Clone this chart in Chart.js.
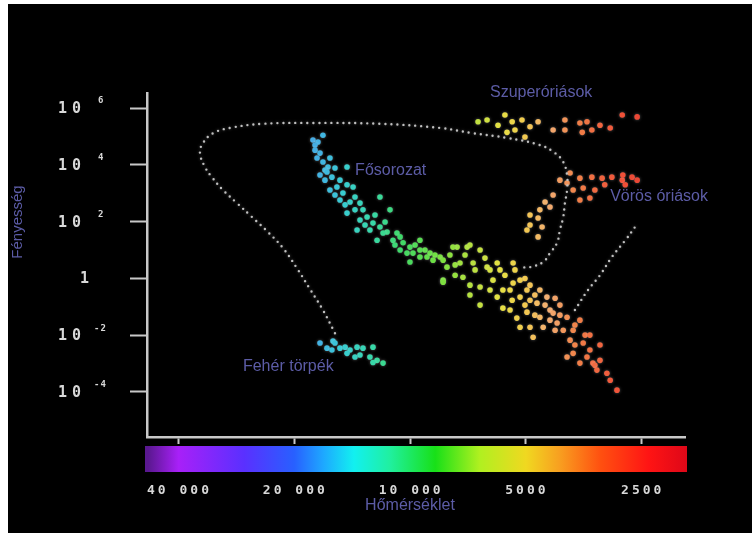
<!DOCTYPE html>
<html lang="hu">
<head>
<meta charset="UTF-8">
<title>Hertzsprung–Russell-diagram</title>
<script src="https://cdn.jsdelivr.net/npm/chart.js"></script>
<style>
  body { margin: 0; background: #fff; }
  canvas { display: block; }
</style>
</head>
<body>
<canvas id="hrd" width="752" height="533"></canvas>
<script>
// [hőmérséklet (K), fényesség (Nap = 1)]
const foSorozat = [
  [16850, 1.1e5], [17890, 7.5e4], [17360, 6.4e4], [17670, 5.0e4], [17670, 3.3e4], [17150, 2.6e4], [17460, 1.75e4],
  [16160, 1.75e4], [16850, 1.26e4], [16350, 8.4e3], [16650, 6.6e3], [16450, 5.6e3], [15680, 7.8e3], [14590, 8.4e3],
  [17150, 4.4e3], [15970, 3.7e3], [16650, 2.9e3], [15220, 2.9e3], [15500, 1.66e3], [14590, 2.0e3], [14070, 1.66e3],
  [16160, 1.3e3], [14950, 1.02e3], [15680, 870], [13910, 740], [15220, 580], [14330, 490], [13500, 450], [14760, 390],
  [13260, 260], [13910, 260], [14590, 200], [11980, 740], [11280, 260], [12340, 171], [13500, 114], [12940, 146],
  [11620, 97], [12490, 89], [13100, 76], [11980, 65], [12720, 51], [13740, 51], [11480, 43], [11760, 40], [10820, 40],
  [10620, 29], [11080, 22], [12190, 22], [10430, 18], [10950, 15], [9710, 15], [10010, 12.7], [10620, 10], [9150, 10],
  [9430, 10], [9430, 22], [10190, 7.8], [9830, 7.8], [8880, 7.8], [9430, 5.7], [9040, 5.7], [8620, 6.7], [8720, 4.4],
  [8360, 5.7], [8210, 4.4], [10010, 3.8], [8020, 2.5], [7880, 6.7], [7550, 12.7], [7740, 12.7], [7110, 12.7],
  [6990, 15], [6580, 10], [7200, 6.7], [6390, 5.2], [7640, 3.0], [7420, 3.5], [6860, 3.5], [6780, 2.0], [6310, 2.5],
  [6200, 2.0], [5940, 3.5], [5400, 3.5], [5840, 2.0], [5340, 2.0], [5670, 1.3], [7640, 1.3], [5030, 1.0],
  [8210, 0.87], [8210, 0.74], [7290, 1.1], [6580, 0.5], [6990, 0.58], [6090, 0.87], [5740, 0.39], [5500, 0.39],
  [6200, 0.39], [5400, 0.69], [5180, 0.87], [4880, 0.58], [6990, 0.26], [5180, 0.22], [4970, 0.39], [4600, 0.39],
  [4740, 0.26], [4680, 0.135], [4410, 0.22], [4200, 0.2], [5940, 0.22], [5430, 0.17], [4880, 0.17], [6580, 0.115],
  [5740, 0.09], [5030, 0.115], [5500, 0.077], [4460, 0.115], [4080, 0.115], [4330, 0.077], [5280, 0.04],
  [4970, 0.065], [4600, 0.043], [4740, 0.051], [4250, 0.06], [4080, 0.051], [4330, 0.034], [5180, 0.019],
  [4880, 0.019], [4510, 0.019], [4150, 0.027], [3910, 0.043], [3620, 0.034], [3730, 0.023], [4000, 0.015],
  [3770, 0.015], [4200, 0.015], [4790, 0.0085], [3510, 0.0101], [3410, 0.0101], [3840, 0.0067], [3550, 0.0053],
  [3730, 0.0045], [3210, 0.0045], [3410, 0.003], [3770, 0.0023], [3910, 0.0017], [3470, 0.0017], [3210, 0.0013],
  [3620, 0.00104], [3350, 0.00104], [3310, 0.00088], [3270, 0.00059], [3080, 0.00046], [3020, 0.00026],
  [2900, 0.000116]
];
const szuperoriasok = [
  [6660, 3.3e5], [6310, 3.8e5], [5910, 2.5e5], [5670, 5.7e5], [5430, 3.3e5], [5600, 1.4e5], [5340, 1.7e5],
  [5120, 3.8e5], [4880, 2.2e5], [4650, 3.3e5], [5030, 9.6e4], [4250, 1.7e5], [3960, 3.8e5], [3960, 1.7e5],
  [3620, 3.0e5], [3470, 3.3e5], [3570, 1.4e5], [3370, 1.7e5], [3210, 2.5e5], [3020, 2.0e5], [2810, 5.7e5],
  [2570, 4.9e5]
];
const vorosOriasok = [
  [4080, 2.9e3], [3840, 5.2e3], [3620, 3.4e3], [3370, 3.7e3], [3170, 3.4e3], [2990, 3.7e3], [2810, 2.9e3],
  [2650, 3.7e3], [2570, 2.9e3], [2800, 4.4e3], [3910, 2.3e3], [3770, 1.3e3], [3550, 1.53e3], [3310, 1.3e3],
  [3120, 2.0e3], [2760, 2.0e3], [3620, 580], [3410, 680], [4250, 870], [4460, 490], [4330, 330], [4600, 260],
  [4880, 171], [4650, 134], [4880, 76], [4540, 65], [4650, 29], [4970, 51]
];
const feherTorpek = [
  [15870, 0.0062], [17150, 0.0053], [16450, 0.0035], [15680, 0.0053], [15220, 0.0035], [14760, 0.0038],
  [14330, 0.003], [13740, 0.0038], [13260, 0.0035], [12490, 0.0038], [15970, 0.003], [14590, 0.0023],
  [13500, 0.002], [13910, 0.0017], [12720, 0.0017], [12190, 0.0013], [11760, 0.00104], [12490, 0.0011]
];
// pontozott határvonalak
const korvonal = [
  [15680, 0.0118], [16850, 0.077], [18210, 0.42], [19690, 2.3], [21410, 11.8], [23420, 43], [25770, 146],
  [28190, 450], [30660, 1.3e3], [32750, 3.7e3], [34140, 8.4e3], [35180, 2.6e4], [34550, 5.9e4], [32550, 1.3e5],
  [29400, 2.0e5], [24130, 2.8e5], [17890, 3.0e5], [11980, 2.8e5], [8360, 2.0e5], [6860, 1.3e5], [5600, 8.9e4],
  [4600, 5.0e4], [4200, 2.6e4], [4000, 1.26e4], [3910, 4.4e3], [3910, 1.3e3], [3960, 450], [4000, 146],
  [4080, 51], [4150, 18], [4330, 7.8], [4510, 3.8], [4880, 2.5], [5180, 2.5]
];
const oriasHatar = [[3730, 0.077], [3450, 0.39], [3210, 1.3], [2990, 5.7], [2760, 22], [2570, 82]];

const xTicks = [40000, 20000, 10000, 5000, 2500];
const xTickLabels = ['40 000', '20 000', '10 000', '5000', '2500'];
const yTicks = [1e6, 1e4, 1e2, 1, 1e-2, 1e-4];
const yTickBase = ['10', '10', '10', '1', '10', '10'];
const yTickExp = ['6', '4', '2', '', '-2', '-4'];

const feliratok = ['Szuperóriások', 'Fősorozat', 'Vörös óriások', 'Fehér törpék'];
const feliratHo = [6200, 13900, 3020, 27200];
const feliratFeny = [3.4e6, 6.1e3, 740, 8.1e-4];

// színskála a vízszintes tengely alatt
const skalaHo = [48000, 40000, 27000, 20000, 16800, 14000, 11300, 8600, 6600, 5000, 4100, 3200, 2400, 1920];
const skalaSzin = ['#5a1890', '#a820f8', '#5a30ff', '#2860ff', '#1ea8ff', '#12f0f0', '#20f0a0', '#18e018',
  '#b0f020', '#f0d820', '#f8a020', '#ff5010', '#ff1414', '#e00818'];

// csillagok színe a hőmérséklet szerint
const pontHo = [20000, 17000, 15000, 12500, 10500, 8500, 7000, 5800, 5000, 4400, 3700, 3200, 2800, 2500];
const pontSzin = ['#4a98e8', '#42b4e2', '#38ccd2', '#38d8a8', '#40d866', '#72e040', '#b4e040', '#e6e044',
  '#f2c850', '#f2ae72', '#f08248', '#f06440', '#f05038', '#e84434'];

function hex2rgb(h) {
  const n = parseInt(h.slice(1), 16);
  return [n >> 16, (n >> 8) & 255, n & 255];
}

function pontSzine(t) {
  const lt = Math.log(t);
  if (lt >= Math.log(pontHo[0])) return pontSzin[0];
  for (let i = 0; i < pontHo.length - 1; i++) {
    const a = Math.log(pontHo[i]), b = Math.log(pontHo[i + 1]);
    if (lt <= a && lt >= b) {
      const f = (a - lt) / (a - b);
      const c1 = hex2rgb(pontSzin[i]), c2 = hex2rgb(pontSzin[i + 1]);
      const c = c1.map((v, k) => Math.round(v + (c2[k] - v) * f));
      return 'rgb(' + c.join(',') + ')';
    }
  }
  return pontSzin[pontSzin.length - 1];
}

const xy = a => a.map(([x, y]) => ({ x: x, y: y }));

const tengelySzin = '#c8c8c8';
const cimSzin = '#5c5ca6';

const hatter = {
  id: 'hatter',
  beforeDraw(chart) {
    const ctx = chart.ctx;
    ctx.save();
    ctx.fillStyle = '#fff';
    ctx.fillRect(0, 0, chart.width, chart.height);
    ctx.fillStyle = '#000';
    ctx.fillRect(8, 4, chart.width - 8, chart.height - 4);
    ctx.restore();
  }
};

// enyhe fénylés a csillagpontok körül
const fenyles = {
  id: 'fenyles',
  beforeDatasetsDraw(chart) {
    chart.ctx.save();
    chart.ctx.shadowColor = 'rgba(255,255,255,0.35)';
    chart.ctx.shadowBlur = 3;
  },
  afterDatasetsDraw(chart) {
    chart.ctx.restore();
  }
};

const rajz = {
  id: 'rajz',
  afterDraw(chart) {
    const ctx = chart.ctx;
    const xs = chart.scales.x, ys = chart.scales.y;
    ctx.save();

    // színskála
    const g = ctx.createLinearGradient(xs.left, 0, xs.right, 0);
    skalaHo.forEach((t, i) => {
      const p = (xs.getPixelForValue(t) - xs.left) / (xs.right - xs.left);
      g.addColorStop(Math.min(1, Math.max(0, p)), skalaSzin[i]);
    });
    ctx.fillStyle = g;
    ctx.fillRect(xs.left - 2, xs.top + 9, xs.right - xs.left + 4, 26);

    // x tengely feliratai
    ctx.fillStyle = '#d8d8d8';
    ctx.font = 'bold 13px "DejaVu Sans Mono"';
    ctx.letterSpacing = '3px';
    ctx.textAlign = 'center';
    ctx.textBaseline = 'middle';
    xTicks.forEach((t, i) => {
      ctx.fillText(xTickLabels[i], xs.getPixelForValue(t) + 1, 491);
    });

    // y tengely feliratai
    ctx.textAlign = 'left';
    yTicks.forEach((v, i) => {
      const py = ys.getPixelForValue(v);
      ctx.font = 'bold 15px "DejaVu Sans Mono"';
      ctx.letterSpacing = '5px';
      ctx.fillText(yTickBase[i], yTickBase[i] === '1' ? 80 : 58, py + 1);
      if (yTickExp[i]) {
        ctx.font = 'bold 9px "DejaVu Sans Mono"';
        ctx.letterSpacing = '1px';
        ctx.fillText(yTickExp[i], yTickExp[i].length > 1 ? 94 : 98, py - 7);
      }
    });
    ctx.letterSpacing = '0px';

    // tengelycímek
    ctx.fillStyle = cimSzin;
    ctx.font = '16px "Liberation Sans"';
    ctx.textAlign = 'center';
    ctx.fillText('Hőmérséklet', 410, 506);
    ctx.save();
    ctx.translate(18, 222);
    ctx.rotate(-Math.PI / 2);
    ctx.font = '15px "Liberation Sans"';
    ctx.fillText('Fényesség', 0, 0);
    ctx.restore();

    // csoportok nevei
    ctx.font = '16px "Liberation Sans"';
    ctx.textAlign = 'left';
    feliratok.forEach((s, i) => {
      ctx.fillText(s, xs.getPixelForValue(feliratHo[i]), ys.getPixelForValue(feliratFeny[i]));
    });
    ctx.restore();
  }
};

const csillag = (adat) => ({
  data: xy(adat),
  pointRadius: 2.8,
  pointHoverRadius: 2.8,
  borderWidth: 0,
  backgroundColor: c => pontSzine(c.raw ? c.raw.x : 5000)
});

const vonal = (adat) => ({
  data: xy(adat),
  showLine: true,
  tension: 0.4,
  borderColor: '#bfbfbf',
  borderWidth: 2.4,
  borderDash: [0, 6],
  borderCapStyle: 'round',
  pointRadius: 0,
  fill: false
});

new Chart(document.getElementById('hrd'), {
  type: 'scatter',
  data: {
    datasets: [
      vonal(korvonal),
      vonal(oriasHatar),
      csillag(foSorozat),
      csillag(szuperoriasok),
      csillag(vorosOriasok),
      csillag(feherTorpek)
    ]
  },
  options: {
    responsive: false,
    animation: false,
    events: [],
    layout: { padding: { left: 0, right: 67, top: 93, bottom: 0 } },
    plugins: { legend: { display: false }, tooltip: { enabled: false } },
    scales: {
      x: {
        type: 'logarithmic',
        reverse: true,
        min: 1930,
        max: 48300,
        afterBuildTicks: s => { s.ticks = xTicks.map(v => ({ value: v })); },
        afterFit: s => { s.height = 96; },
        ticks: { display: false },
        grid: { drawOnChartArea: false, drawTicks: true, tickLength: 7, tickColor: tengelySzin, tickWidth: 2 },
        border: { color: tengelySzin, width: 2.5 }
      },
      y: {
        type: 'logarithmic',
        min: 2.6e-6,
        max: 3.4e6,
        afterBuildTicks: s => { s.ticks = yTicks.map(v => ({ value: v })); },
        afterFit: s => { s.width = 147; },
        ticks: { display: false },
        grid: { drawOnChartArea: false, drawTicks: true, tickLength: 17, tickColor: tengelySzin, tickWidth: 2 },
        border: { color: tengelySzin, width: 2.5 }
      }
    }
  },
  plugins: [hatter, fenyles, rajz]
});
</script>
</body>
</html>
